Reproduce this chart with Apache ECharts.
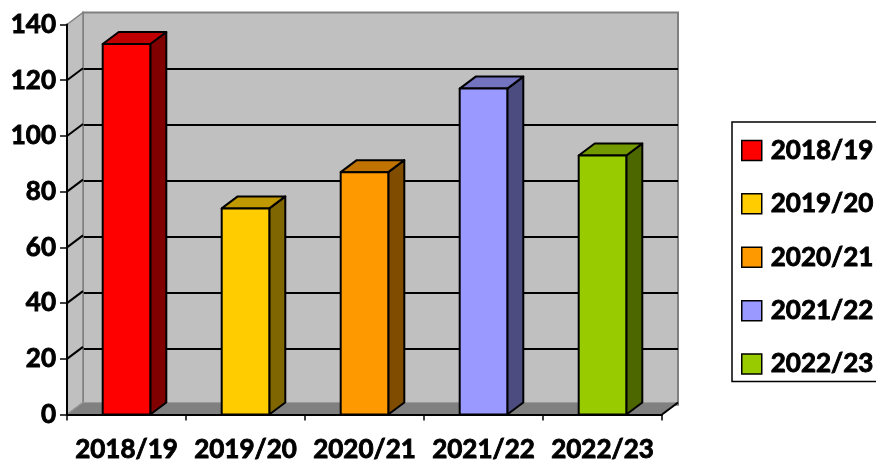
<!DOCTYPE html>
<html>
<head>
<meta charset="utf-8">
<script src="https://cdn.jsdelivr.net/npm/echarts@6/dist/echarts.min.js"></script>
<style>
  html, body { margin: 0; padding: 0; background: #fff; }
  #chart { width: 876px; height: 463px; }
</style>
</head>
<body>
<div id="chart"></div>
<script>
const categories = ['2018/19', '2019/20', '2020/21', '2021/22', '2022/23']
const values = [133, 74, 87, 117, 93]
const frontColors = ['#FF0000', '#FFCC00', '#FF9900', '#9999FF', '#99CC00']
const topColors = ['#C00000', '#C09900', '#C07300', '#7373BF', '#739900']
const sideColors = ['#800000', '#806600', '#804C00', '#4C4C80', '#4C6600']
const yTicks = [0, 20, 40, 60, 80, 100, 120, 140]

// depth offset of the 3d box (px)
const DX = 16
const DY = -12
// Lato bold is a bit light next to the original, thicken with a thin outline
const textStyle = {
  fontFamily: 'Lato', fontWeight: 'bold', fontSize: 26, color: '#000',
  textBorderColor: '#000', textBorderWidth: 0.9
}

const chart = echarts.init(document.getElementById('chart'))

const wallsSeries = {
  type: 'custom',
  name: 'walls',
  xAxisIndex: 0,
  yAxisIndex: 0,
  z: 1,
  silent: true,
  data: [[0, 0]],
  renderItem: (params, api) => {
    const cs = params.coordSys
    const x0 = cs.x, x1 = cs.x + cs.width
    const yb = api.coord([0, 0])[1]
    const yt = api.coord([0, yTicks[yTicks.length - 1]])[1]
    const children = []
    children.push({
      type: 'polygon',
      shape: { points: [[x0, yb], [x0, yt], [x0 + DX, yt + DY], [x0 + DX, yb + DY]] },
      style: { fill: '#C0C0C0', stroke: '#808080', lineWidth: 1.5 }
    })
    yTicks.slice(1, -1).forEach(v => {
      const y = api.coord([0, v])[1]
      children.push({
        type: 'line',
        shape: { x1: x0, y1: y, x2: x0 + DX, y2: y + DY },
        style: { stroke: '#000', lineWidth: 2 }
      })
    })
    children.push({
      type: 'polygon',
      shape: { points: [[x0, yb], [x1, yb], [x1 + DX, yb + DY], [x0 + DX, yb + DY]] },
      style: { fill: '#808080', stroke: '#9a9a9a', lineWidth: 1 }
    })
    children.push({
      type: 'line',
      shape: { x1: x1, y1: yb, x2: x1 + DX, y2: yb + DY },
      style: { stroke: '#000', lineWidth: 2 }
    })
    return { type: 'group', children }
  }
}

const barSeries = categories.map((name, i) => ({
  type: 'custom',
  name: name,
  xAxisIndex: 0,
  yAxisIndex: 0,
  z: 3,
  itemStyle: { color: frontColors[i] },
  data: [[i, values[i]]],
  renderItem: (params, api) => {
    const idx = api.value(0)
    const base = api.coord([idx, 0])
    const top = api.coord([idx, api.value(1)])
    const w = api.size([1, 0])[0] * 0.40
    const xl = base[0] - w / 2, xr = base[0] + w / 2
    const yb = base[1], yt = top[1]
    const line = { stroke: '#000', lineWidth: 2, lineJoin: 'round' }
    return {
      type: 'group',
      children: [
        {
          type: 'polygon',
          shape: { points: [[xr, yt], [xr, yb], [xr + DX, yb + DY], [xr + DX, yt + DY]] },
          style: Object.assign({ fill: sideColors[i] }, line)
        },
        {
          type: 'polygon',
          shape: { points: [[xl, yt], [xr, yt], [xr + DX, yt + DY], [xl + DX, yt + DY]] },
          style: Object.assign({ fill: topColors[i] }, line)
        },
        {
          type: 'rect',
          shape: { x: xl, y: yt, width: w, height: yb - yt },
          style: Object.assign({ fill: frontColors[i] }, line)
        }
      ]
    }
  }
}))

const options = {
  animation: false,
  backgroundColor: '#fff',
  grid: [
    { left: 67, right: 214, top: 24.5, bottom: 46.3 },
    {
      left: 67 + DX, right: 214 - DX, top: 24.5 + DY, bottom: 46.3 - DY,
      show: true, backgroundColor: '#C0C0C0', borderColor: '#808080', borderWidth: 2
    }
  ],
  legend: {
    orient: 'vertical',
    left: 732,
    top: 122,
    padding: [15, 30, 4, 9],
    itemWidth: 20,
    itemHeight: 20,
    itemGap: 26.5,
    icon: 'rect',
    backgroundColor: '#fff',
    borderColor: '#000',
    borderWidth: 1.5,
    borderRadius: 0,
    itemStyle: { borderColor: '#000', borderWidth: 1.5 },
    textStyle: Object.assign({ lineHeight: 20, padding: [0, 0, 0, 4] }, textStyle),
    data: categories
  },
  xAxis: [
    {
      type: 'category',
      gridIndex: 0,
      data: categories,
      z: 5,
      axisLine: { lineStyle: { color: '#000', width: 2 } },
      axisTick: { show: true, alignWithLabel: false, length: 6, lineStyle: { color: '#000', width: 1.5 } },
      axisLabel: Object.assign({ margin: 22, interval: 0 }, textStyle),
      splitLine: { show: false }
    },
    { type: 'category', gridIndex: 1, data: categories, show: false }
  ],
  yAxis: [
    {
      type: 'value',
      gridIndex: 0,
      min: 0,
      max: 140,
      interval: 20,
      z: 5,
      axisLine: { show: true, lineStyle: { color: '#000', width: 2 } },
      axisTick: { show: true, length: 7, lineStyle: { color: '#000', width: 1.5 } },
      axisLabel: Object.assign({ margin: 11 }, textStyle),
      splitLine: { show: false }
    },
    {
      type: 'value',
      gridIndex: 1,
      min: 0,
      max: 140,
      interval: 20,
      axisLine: { show: false },
      axisTick: { show: false },
      axisLabel: { show: false },
      splitLine: { show: true, showMaxLine: false, showMinLine: false, lineStyle: { color: '#000', width: 2 } }
    }
  ],
  series: [wallsSeries].concat(barSeries)
}

chart.setOption(options)
</script>
</body>
</html>
